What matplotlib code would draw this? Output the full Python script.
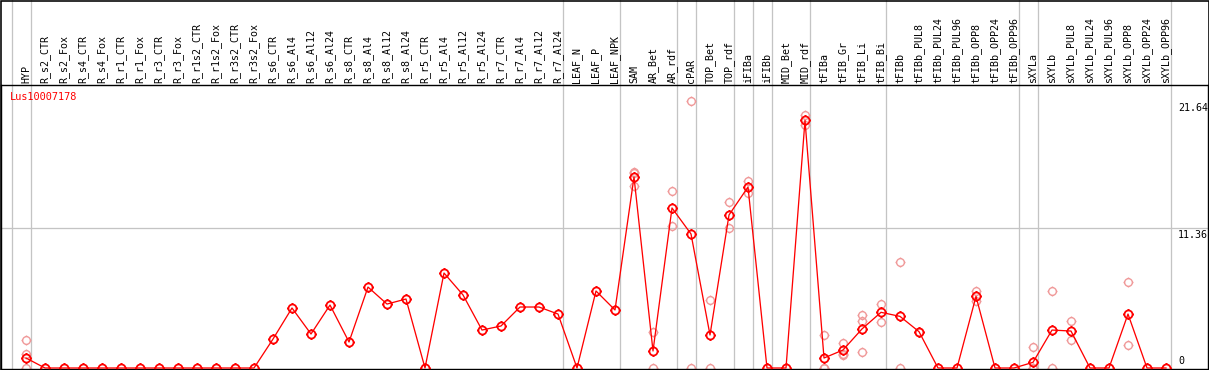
import matplotlib
matplotlib.use("Agg")
import matplotlib.pyplot as plt
import numpy as np
from matplotlib.path import Path
from matplotlib.patches import Rectangle
from matplotlib.transforms import offset_copy

# ---------------- data ----------------
gene_name = "Lus10007178"

samples = [
    "HYP", "R_s2_CTR", "R_s2_Fox", "R_s4_CTR", "R_s4_Fox", "R_r1_CTR", "R_r1_Fox",
    "R_r3_CTR", "R_r3_Fox", "R_r1s2_CTR", "R_r1s2_Fox", "R_r3s2_CTR", "R_r3s2_Fox",
    "R_s6_CTR", "R_s6_Al4", "R_s6_Al12", "R_s6_Al24", "R_s8_CTR", "R_s8_Al4",
    "R_s8_Al12", "R_s8_Al24", "R_r5_CTR", "R_r5_Al4", "R_r5_Al12", "R_r5_Al24",
    "R_r7_CTR", "R_r7_Al4", "R_r7_Al12", "R_r7_Al24", "LEAF_N", "LEAF_P", "LEAF_NPK",
    "SAM", "AR_Bet", "AR_rdf", "cPAR", "TOP_Bet", "TOP_rdf", "iFIBa", "iFIBb",
    "MID_Bet", "MID_rdf", "tFIBa", "tFIB_Gr", "tFIB_Li", "tFIB_Bi", "tFIBb",
    "tFIBb_PUL8", "tFIBb_PUL24", "tFIBb_PUL96", "tFIBb_OPP8", "tFIBb_OPP24",
    "tFIBb_OPP96", "sXYLa", "sXYLb", "sXYLb_PUL8", "sXYLb_PUL24", "sXYLb_PUL96",
    "sXYLb_OPP8", "sXYLb_OPP24", "sXYLb_OPP96",
]

means = [
    0.81, 0, 0, 0, 0, 0, 0, 0, 0, 0, 0, 0, 0,
    2.35, 4.87, 2.76, 5.11, 2.11, 6.57, 5.19, 5.60,
    0, 7.71, 5.93, 3.08, 3.41, 4.95, 4.95, 4.38,
    0, 6.25, 4.71,
    15.5, 1.38, 12.99, 10.88, 2.68, 12.42, 14.69, 0, 0, 20.1,
    0.81, 1.46, 3.17, 4.52, 4.19, 2.95, 0, 0, 5.81, 0, 0,
    0.46, 3.08, 3.0, 0, 0, 4.38, 0, 0,
]

replicates = {
    "HYP": [2.27, 1.14, 0],
    "SAM": [15.9, 15.8, 14.8],
    "AR_Bet": [2.9, 0],
    "AR_rdf": [14.4, 11.5],
    "cPAR": [21.64, 0],
    "TOP_Bet": [5.5, 0],
    "TOP_rdf": [13.5, 11.36],
    "iFIBa": [15.2, 14.2],
    "MID_rdf": [20.5, 19.7],
    "tFIBa": [2.68, 0, 0],
    "tFIB_Gr": [2.0, 1.05, 1.13],
    "tFIB_Li": [4.3, 3.8, 1.3],
    "tFIB_Bi": [5.2, 3.7],
    "tFIBb": [8.6, 0],
    "tFIBb_PUL8": [2.9],
    "tFIBb_OPP8": [6.25, 5.4],
    "sXYLa": [1.7, 0, 0],
    "sXYLb": [6.25, 0],
    "sXYLb_PUL8": [3.8, 2.27],
    "sXYLb_OPP8": [7.0, 1.87],
}

# group separators: line drawn just after these sample indices (-1 = before first)
separators_after = [-1, 0, 28, 31, 34, 35, 37, 38, 39, 41, 45, 52, 53, 60]

scale_ticks = [21.64, 11.36, 0]
grid_values = [11.36]

# ---------------- layout ----------------
W, H = 1209, 370
DPI = 100
fig = plt.figure(figsize=(W / DPI, H / DPI), dpi=DPI)

px = 72.0 / DPI  # points per pixel

ax_left_px, ax_right_px = 1, 1208
ax_top_px, ax_bot_px = 85, 369
ax = fig.add_axes([ax_left_px / W, (H - ax_bot_px) / H,
                   (ax_right_px - ax_left_px) / W, (ax_bot_px - ax_top_px) / H])

x0_px, dx_px = 26.0, 19.0            # column centre pixel positions
y0_px, dy_px = 368.0, 12.32          # zero line pixel and px per unit
ax.set_xlim((ax_left_px - x0_px) / dx_px, (ax_right_px - x0_px) / dx_px)
ax.set_ylim((y0_px - ax_bot_px) / dy_px, (y0_px - ax_top_px) / dy_px)

ax.set_xticks([])
ax.set_yticks([])
for s in ax.spines.values():
    s.set_color("black")
    s.set_linewidth(1.4 * px)

grid_color = "#c4c4c4"
ext = (ax_bot_px - 0) / (ax_bot_px - ax_top_px)
for c in separators_after:
    ax.axvline(c + 4.5 / dx_px, ymin=0, ymax=ext, color=grid_color,
               lw=1.3 * px, clip_on=False, zorder=0.5)
for g in grid_values:
    ax.axhline(g, color=grid_color, lw=1.3 * px, zorder=0.5)

# figure border
fig.patches.append(Rectangle((0.5 / W, 0.5 / H), 1 - 1.0 / W, 1 - 1.0 / H,
                             transform=fig.transFigure, fill=False,
                             edgecolor="black", lw=1.6 * px, zorder=10))

# custom marker: circle with four small ticks outside
circ = Path.unit_circle()
r0, r1 = 1.0, 1.3
tick_verts = [(0, r0), (0, r1), (0, -r0), (0, -r1), (r0, 0), (r1, 0), (-r0, 0), (-r1, 0)]
tick_codes = [Path.MOVETO, Path.LINETO] * 4
ticks = Path(tick_verts, tick_codes)
marker_path = Path.make_compound_path(circ, ticks)

xs = np.arange(len(samples))

# replicates (faded)
rx, ry = [], []
for i, name in enumerate(samples):
    for v in replicates.get(name, []):
        rx.append(i)
        ry.append(v)
ax.plot(rx, ry, linestyle="none", marker=marker_path, markersize=10 * px,
        markerfacecolor="none", markeredgecolor="#f09a9a", markeredgewidth=1.4 * px,
        zorder=2, clip_on=True)

# mean line
ax.plot(xs, means, color="#ff0000", lw=1.3 * px, zorder=3)
ax.plot(xs, means, linestyle="none", marker=marker_path, markersize=10.5 * px,
        markerfacecolor="none", markeredgecolor="#ff0000", markeredgewidth=1.8 * px,
        zorder=4)

mono = "DejaVu Sans Mono"

# sample labels above the plot
lab_tr = offset_copy(ax.get_xaxis_transform(), fig=fig, x=0, y=2 * px, units="points")
for i, name in enumerate(samples):
    ax.text(i, 1.0, name, rotation=90, ha="center", va="bottom",
            family=mono, fontsize=7.2, transform=lab_tr, clip_on=False)

# right-side scale labels (bottom one sits above its line, others below)
lab_x = (1178 - x0_px) / dx_px
below_tr = offset_copy(ax.transData, fig=fig, x=0, y=-1.5 * px, units="points")
above_tr = offset_copy(ax.transData, fig=fig, x=0, y=2 * px, units="points")
for v in scale_ticks:
    txt = "0" if v == 0 else f"{v:.2f}"
    if v == min(scale_ticks):
        ax.text(lab_x, v, txt, ha="left", va="bottom", family=mono,
                fontsize=7.2, transform=above_tr)
    else:
        ax.text(lab_x, v, txt, ha="left", va="top", family=mono,
                fontsize=7.2, transform=below_tr)

# gene name
fig.text(10 / W, 1 - 97 / H, gene_name, color="#ff0000", family=mono,
         fontsize=7.4, ha="left", va="center")

fig.savefig("out.png", dpi=DPI)
